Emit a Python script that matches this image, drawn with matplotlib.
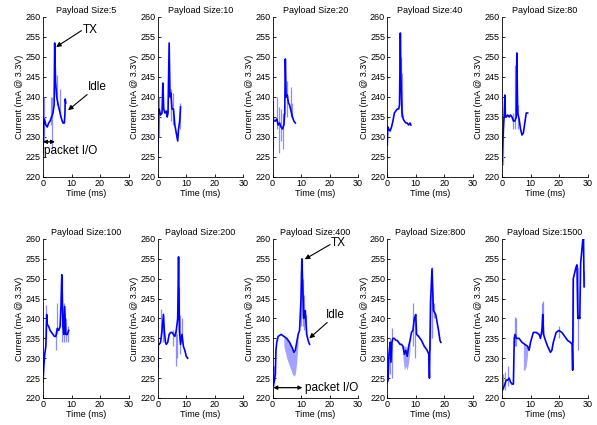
import matplotlib
matplotlib.use("Agg")
import matplotlib.pyplot as plt

plt.rcParams['font.family'] = ['Liberation Sans', 'DejaVu Sans']

titles = ["Payload Size:5", "Payload Size:10", "Payload Size:20", "Payload Size:40", "Payload Size:80",
          "Payload Size:100", "Payload Size:200", "Payload Size:400", "Payload Size:800", "Payload Size:1500"]
x_ticks = [0, 10, 20, 30]
y_ticks = [220, 225, 230, 235, 240, 245, 250, 255, 260]

# ---- Payload 5 ----
t_5 = [0, 0.2, 0.5, 1, 1.5, 2, 2.5, 3, 3.5, 3.9, 4.1, 4.4, 4.8, 5.5, 6, 6.5, 7, 7.5, 7.7, 7.8, 8]
i_5 = [226, 233, 234.5, 233, 232.5, 233.5, 234, 235, 236, 238, 253.5, 244, 240, 237.5, 236, 234.5, 233.5, 233.5, 236, 239.5, 238.5]
spk_t_5 = [0.3, 2.7, 3.3, 4.9, 5.8]
spk_lo_5 = [229, 233, 227, 238, 235]
spk_hi_5 = [240, 240, 240, 245.5, 242]

# ---- Payload 10 ----
t_10 = [0, 0.3, 0.5, 1, 1.5, 1.8, 2.1, 2.5, 3, 3.3, 3.6, 4, 4.3, 4.6, 5, 5.5, 6, 6.5, 7, 7.3, 7.7, 8]
i_10 = [226, 236, 237, 235.5, 236, 243.5, 237, 236, 236.5, 235, 236, 253.5, 240, 241, 237, 237, 233, 231, 229, 232, 234, 237.5]
spk_t_10 = [0.4, 4.5, 5.2, 7.8]
spk_lo_10 = [230, 234, 233, 232]
spk_hi_10 = [240, 242, 241, 238.5]

# ---- Payload 20 ----
t_20 = [0, 0.2, 0.5, 1, 1.5, 2, 2.5, 3, 3.5, 4, 4.3, 4.5, 4.8, 5.2, 5.6, 6, 6.5, 7, 7.5, 8]
i_20 = [230, 235, 234, 234, 234.5, 233, 233.5, 232.5, 232, 233, 236, 249.5, 240, 240.5, 238.5, 238, 236.5, 235, 234, 233.5]
spk_t_20 = [0.2, 1.7, 2.4, 3.0, 3.8, 5.0, 6.5, 6.9]
spk_lo_20 = [227, 232, 226, 229, 227, 235, 235, 235]
spk_hi_20 = [239, 240, 237.5, 237, 236, 244, 242.5, 238.5]

# ---- Payload 40 ----
t_40 = [0, 0.2, 0.5, 1, 1.5, 2, 2.5, 3, 3.5, 4, 4.3, 4.6, 4.8, 5, 5.2, 5.6, 6, 6.5, 7, 7.5, 8, 8.3]
i_40 = [228, 232.5, 232, 231.5, 232.5, 234, 236, 236.5, 237, 237, 238, 256, 245, 240, 236, 234.5, 234, 233.5, 233.5, 233, 233.5, 233]
spk_t_40 = [4.7, 5.1]
spk_lo_40 = [235, 235]
spk_hi_40 = [250, 246]

# ---- Payload 80 ----
t_80 = [0, 0.3, 0.5, 0.8, 1, 1.2, 1.5, 2, 2.5, 3, 3.5, 4, 4.5, 5, 5.2, 5.5, 6, 6.5, 7, 7.5, 8, 8.5, 9]
i_80 = [224, 229, 232, 236, 240.5, 235, 235, 235.5, 235, 235.5, 235, 234, 234, 235, 251, 236, 234.5, 232, 230.5, 231, 233.5, 236, 236]
spk_t_80 = [0.2, 3.8, 4.7, 5.6]
spk_lo_80 = [223, 232, 232, 232]
spk_hi_80 = [232, 236, 248, 238]

# ---- Payload 100 ----
t_100 = [0, 0.3, 0.6, 1, 1.3, 1.5, 2, 2.5, 3, 3.5, 4, 4.5, 5, 5.5, 6, 6.3, 6.6, 7, 7.3, 7.6, 8, 8.5, 9]
i_100 = [224, 228, 231, 233, 241, 238.5, 238, 237, 236.5, 236, 235.5, 235.5, 237.5, 237, 238, 243, 251, 238, 236, 243, 236, 236, 237]
spk_t_100 = [1.2, 4.4, 5.0, 6.5, 7.5, 8.0, 8.7]
spk_lo_100 = [235, 232, 236, 234, 234, 234, 234]
spk_hi_100 = [243.5, 237, 244, 251, 244, 240, 238]

# ---- Payload 200 ----
t_200 = [0, 0.2, 0.5, 1, 1.5, 2, 2.3, 2.7, 3, 3.5, 4, 4.5, 5, 5.5, 6, 6.5, 7, 7.3, 7.6, 8, 8.5, 9, 9.5, 10, 10.5]
i_200 = [226, 233.5, 233.5, 234, 237, 241, 237, 234, 233.5, 234, 236, 236.5, 236.5, 236, 235.5, 237, 240, 255.5, 237, 233.5, 236, 233, 232, 230.5, 230]
spk_t_200 = [1.2, 1.7, 5.5, 6.3, 6.8, 7.5, 7.8, 8.5]
spk_lo_200 = [236, 234, 233, 228, 230, 236, 231, 234]
spk_hi_200 = [242.5, 241.5, 237, 237, 236, 248, 241, 240]

# ---- Payload 400 ----
t_400 = [0, 0.3, 0.7, 1, 1.2, 1.5, 2, 3, 4, 5, 6, 7, 7.5, 8, 8.5, 9, 9.5, 10, 10.3, 10.6, 11, 11.5, 12, 12.5, 13]
i_400 = [224, 223.5, 224.5, 226, 232, 234, 235.5, 236, 235.5, 235, 234, 232.5, 231.5, 232, 234, 236, 237, 245, 255, 248, 240, 242, 236, 234.5, 233.5]
spk_t_400 = [0.2, 0.6, 10.1, 10.5, 10.8, 11.2, 11.7]
spk_lo_400 = [223, 223, 238, 240, 238, 237, 236]
spk_hi_400 = [228, 228, 252, 254, 250, 246, 241]
band_t_400 = [4, 5, 6, 7, 7.5, 8, 8.5, 9]
band_lo_400 = [233, 230, 228, 226, 225.5, 226, 229, 234]
band_hi_400 = [235.5, 235, 234, 232.5, 231.5, 232, 234, 236]

# ---- Payload 800 ----
t_800 = [0, 0.3, 0.6, 1, 1.3, 1.6, 2, 2.5, 3, 3.5, 4, 4.5, 5, 5.5, 6, 6.5, 7, 7.5, 8, 8.5, 9, 9.5, 10,
         10.3, 11, 12, 13, 14, 14.6, 14.8, 15.2, 15.7, 16.2, 17, 17.5, 18, 18.5, 18.8]
i_800 = [224, 224.5, 231, 234, 229, 234, 235, 235, 234.5, 234.5, 234, 233.5, 233.5, 233, 231, 232, 230.5, 233, 234.5, 236.5, 237, 240, 241,
         236, 235.5, 234.5, 233, 232, 231, 225, 244, 252.5, 242, 241, 239, 237, 234.5, 234]
spk_t_800 = [0.8, 1.5, 9.0, 9.7, 15.0, 15.6, 15.8, 16.3]
spk_lo_800 = [226, 225, 233, 230, 232, 235, 235, 240]
spk_hi_800 = [235, 237.5, 244, 241, 246, 253, 248, 244]
band_t_800 = [5.5, 6, 6.5, 7, 7.5, 8]
band_lo_800 = [230, 227, 228, 227, 229, 232]
band_hi_800 = [233.5, 233, 233, 232, 233.5, 234.5]

# ---- Payload 1500 ----
t_1500 = [0, 0.5, 1, 1.5, 2, 2.5, 3, 3.5, 4, 4.3, 4.6, 5, 6, 7, 8, 9, 9.5, 10, 11, 12, 13, 13.5, 14, 14.3, 14.6, 15,
          16, 17, 17.5, 18, 19, 20, 21, 22, 23, 24, 24.6, 24.8, 25, 25.5, 26, 26.3, 26.6, 27, 27.3, 27.6, 28, 28.3, 28.6, 28.8]
i_1500 = [222, 222.5, 223.5, 224.5, 224.5, 225, 224, 223.5, 223.5, 235, 236, 235, 235, 234, 233.5, 233, 232, 234, 236.5, 236.5, 236, 235, 237, 241, 236, 235,
          233, 231.5, 232, 234, 236.5, 237, 236.5, 235.5, 234.5, 234, 233.5, 227, 250, 251.5, 253, 253.5, 240, 240.5, 240, 254, 257, 259.5, 260, 248]
spk_t_1500 = [0.5, 1, 2, 4.5, 4.8, 13.9, 14.3, 20, 24.7, 25.0, 26.7, 28.8]
spk_lo_1500 = [222, 222, 223, 233, 233, 236, 236, 235, 227, 234, 232, 248]
spk_hi_1500 = [226, 226.5, 228, 240.5, 240, 244, 244.5, 238, 234, 250, 253, 252]
band_t_1500 = [7.5, 8, 8.5, 9]
band_lo_1500 = [227, 227, 228, 231]
band_hi_1500 = [234, 233.5, 233, 233]

panels = [
    (t_5, i_5, spk_t_5, spk_lo_5, spk_hi_5, None),
    (t_10, i_10, spk_t_10, spk_lo_10, spk_hi_10, None),
    (t_20, i_20, spk_t_20, spk_lo_20, spk_hi_20, None),
    (t_40, i_40, spk_t_40, spk_lo_40, spk_hi_40, None),
    (t_80, i_80, spk_t_80, spk_lo_80, spk_hi_80, None),
    (t_100, i_100, spk_t_100, spk_lo_100, spk_hi_100, None),
    (t_200, i_200, spk_t_200, spk_lo_200, spk_hi_200, None),
    (t_400, i_400, spk_t_400, spk_lo_400, spk_hi_400, (band_t_400, band_lo_400, band_hi_400)),
    (t_800, i_800, spk_t_800, spk_lo_800, spk_hi_800, (band_t_800, band_lo_800, band_hi_800)),
    (t_1500, i_1500, spk_t_1500, spk_lo_1500, spk_hi_1500, (band_t_1500, band_lo_1500, band_hi_1500)),
]

W, H = 597, 425
fig = plt.figure(figsize=(W / 100, H / 100), dpi=100)

FS = 6.5
main_c = '#0000ff'
light_c = '#8c8cff'
axes = []
for k, (t, cur, st, slo, shi, band) in enumerate(panels):
    row, col = divmod(k, 5)
    left = (43 + 114.75 * col) / W
    width = 85.5 / W
    if row == 0:
        bottom = 1 - 177 / H
        height = 160 / H
    else:
        bottom = 1 - 398 / H
        height = 159 / H
    ax = fig.add_axes([left, bottom, width, height])
    axes.append(ax)
    if band is not None:
        ax.fill_between(band[0], band[1], band[2], color=light_c, lw=0, alpha=0.8)
    ax.vlines(st, slo, shi, color=light_c, lw=0.9)
    ax.plot(t, cur, color=main_c, lw=1.2)
    ax.set_xlim(0, 30)
    ax.set_ylim(220, 260)
    ax.set_xticks(x_ticks)
    ax.set_yticks(y_ticks)
    ax.tick_params(direction='in', length=2.5, width=0.6, labelsize=FS, pad=1.5)
    for s in ['top', 'right']:
        ax.spines[s].set_visible(False)
    for s in ['left', 'bottom']:
        ax.spines[s].set_linewidth(0.6)
    ax.set_title(titles[k], fontsize=FS, pad=3)
    ax.set_xlabel('Time (ms)', fontsize=FS, labelpad=1)
    ax.set_ylabel('Current (mA @ 3.3V)', fontsize=FS, labelpad=1)

AFS = 8.5
arr = dict(arrowstyle='-|>', color='k', lw=0.8, mutation_scale=7, shrinkA=0, shrinkB=0)
darr = dict(arrowstyle='<|-|>', color='k', lw=0.9, mutation_scale=5.5, shrinkA=0, shrinkB=0)

a = axes[0]
a.text(14, 256.8, 'TX', fontsize=AFS, va='center', ha='left')
a.annotate('', xy=(4.6, 252.5), xytext=(13.5, 256.6), arrowprops=arr, annotation_clip=False)
a.text(15.8, 242.5, 'Idle', fontsize=AFS, va='center', ha='left')
a.annotate('', xy=(8.8, 236.7), xytext=(15.5, 240.6), arrowprops=arr, annotation_clip=False)
a.annotate('', xy=(0, 228.8), xytext=(4.2, 228.8), arrowprops=darr, annotation_clip=False)
a.text(0.5, 226.6, 'packet I/O', fontsize=AFS, va='center', ha='left', clip_on=False)

a = axes[7]
a.text(20.6, 258.9, 'TX', fontsize=AFS, va='center', ha='left', clip_on=False)
a.annotate('', xy=(11.3, 254.9), xytext=(20.2, 258.6), arrowprops=arr, annotation_clip=False)
a.text(18.8, 240.8, 'Idle', fontsize=AFS, va='center', ha='left', clip_on=False)
a.annotate('', xy=(12.9, 235), xytext=(19.2, 239.0), arrowprops=arr, annotation_clip=False)
a.annotate('', xy=(0.3, 222.6), xytext=(10.5, 222.6), arrowprops=darr, annotation_clip=False)
a.text(11.3, 222.6, 'packet I/O', fontsize=AFS, va='center', ha='left', clip_on=False)

fig.savefig('out.png', dpi=100)
